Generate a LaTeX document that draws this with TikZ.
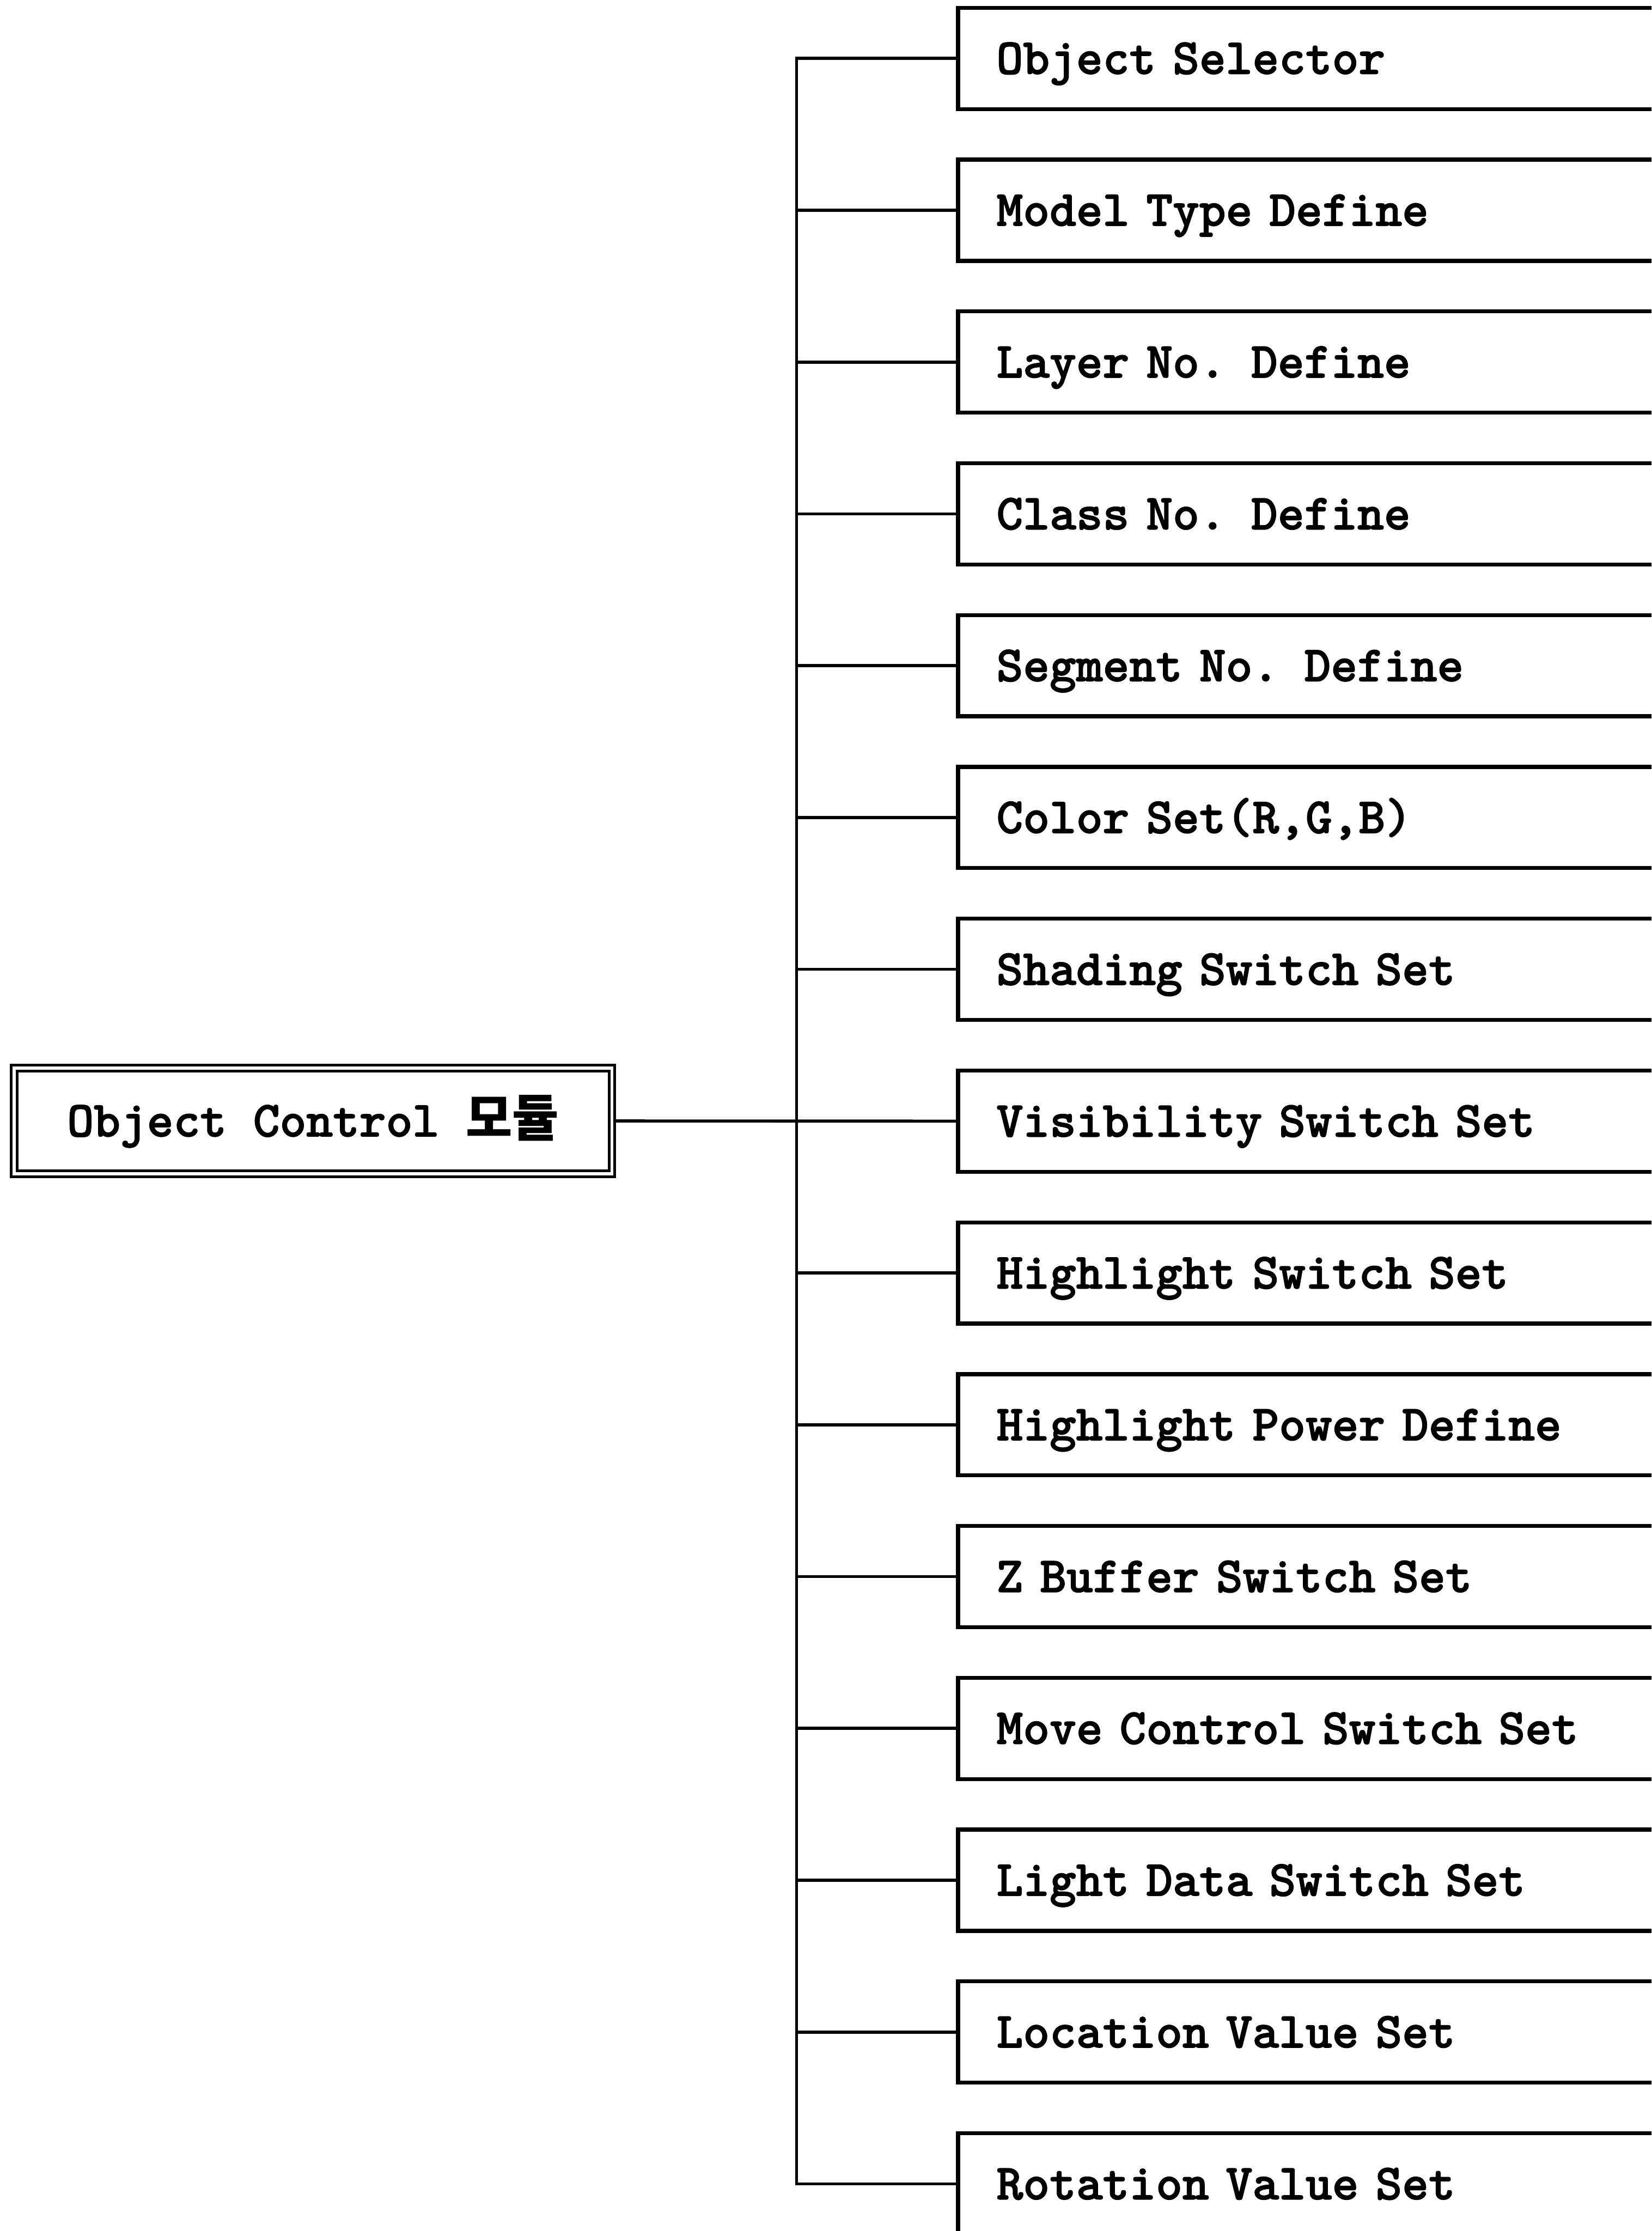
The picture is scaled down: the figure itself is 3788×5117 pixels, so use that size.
\documentclass[tikz,border=0pt]{standalone}
\usepackage{fontspec}
\newfontfamily\krfont{Noto Sans CJK KR}
\newfontfamily\boxfont{lmmonolt10-bold.otf}[FakeBold=1.6]
\usetikzlibrary{positioning}

\begin{document}
\begin{tikzpicture}[x=0.01cm,y=-0.01cm,
  item/.style={draw,line width=2.6pt,minimum height=2.32cm,text width=15.24cm,
    text height=0.71cm,text depth=0pt,
    inner xsep=0.88cm,inner ysep=0pt,align=left,anchor=west,
    font=\boxfont\fontsize{33}{36}\selectfont},
  module/.style={draw,line width=1.8pt,double,double distance=2pt,
    minimum width=13.7cm,minimum height=2.42cm,inner sep=0pt,
    text height=0.71cm,text depth=0pt,
    font=\boxfont\fontsize{33}{36}\selectfont},
  link/.style={line width=2pt}
]
  \useasboundingbox (0,0) rectangle (3788,5117);
  \clip (0,0) rectangle (3788,5117);

  % Function boxes (right edge runs off the page)
  \foreach \lbl [count=\i] in {Object Selector, Model Type Define, Layer No. Define,
      Class No. Define, Segment No. Define, {Color Set(R,G,B)}, Shading Switch Set,
      Visibility Switch Set, Highlight Switch Set, Highlight Power Define,
      Z Buffer Switch Set, Move Control Switch Set, Light Data Switch Set,
      Location Value Set, Rotation Value Set} {
    \node[item] (box\i) at (2193,{134+348.2*(\i-1)}) {\lbl};
  }

  % Module
  \node[module] (module) at (718,2571) {Object Control {\krfont\bfseries 모듈}};
  \coordinate (trunk) at (1827,2571);

  % Tree connectors
  \draw[link] (module.east) -- (box8.west);
  \draw[link] (box1.west) -- (box1.west -| trunk) -- (box15.west -| trunk) -- (box15.west);
  \foreach \i in {2,...,14}
    \draw[link] (box\i.west) -- (box\i.west -| trunk);
\end{tikzpicture}
\end{document}
